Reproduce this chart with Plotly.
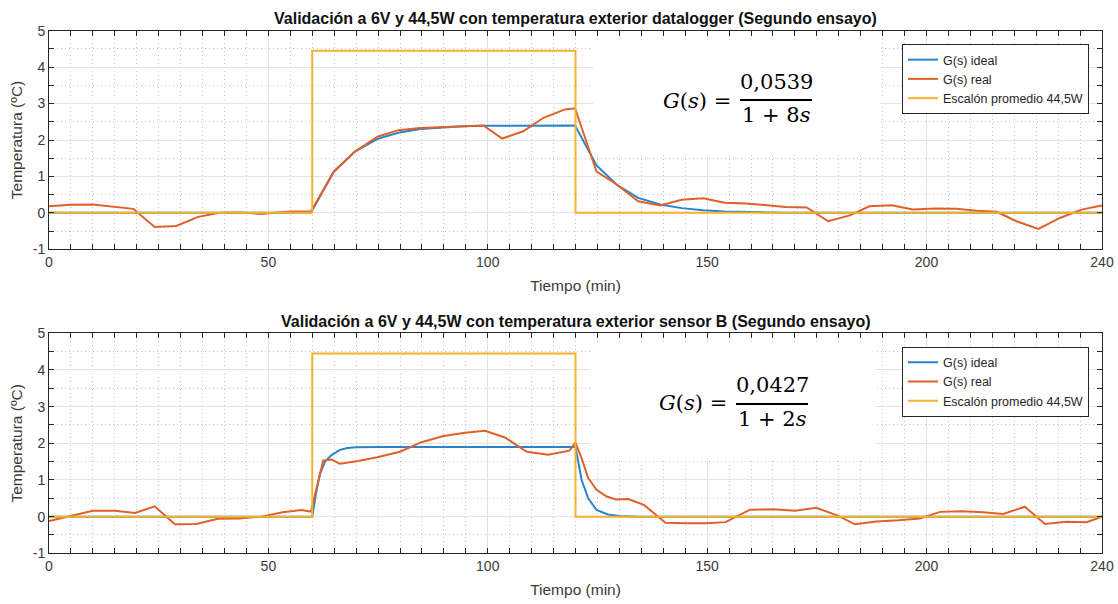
import plotly.graph_objects as go

W, H = 1118, 604

# ---------------- data: first test (datalogger) ----------------
t_real_1 = [0, 4.9, 10, 14.6, 19.2, 24.1, 29, 34, 38.9, 43.8, 48.3, 54.8, 59.7,
            64.9, 69.8, 74.9, 79.6, 84.6, 89.5, 94.3, 99, 103.3, 108.1, 112.7,
            117.6, 119.9, 124.8, 129.4, 134.3, 139.3, 144.2, 149.1, 154, 158.9,
            163.5, 167.8, 172.7, 177.6, 182.5, 187, 192, 196.9, 201.9, 206.8,
            211.4, 216, 220.5, 225.5, 230.4, 235.3, 240]
y_real_1 = [0.18, 0.22, 0.23, 0.17, 0.11, -0.39, -0.36, -0.11, 0.0, 0.01, -0.03,
            0.04, 0.04, 1.13, 1.69, 2.09, 2.27, 2.33, 2.35, 2.38, 2.40, 2.04,
            2.24, 2.61, 2.84, 2.87, 1.13, 0.78, 0.32, 0.20, 0.36, 0.40, 0.28,
            0.26, 0.21, 0.16, 0.15, -0.23, -0.07, 0.18, 0.21, 0.09, 0.12, 0.11,
            0.06, 0.03, -0.23, -0.44, -0.14, 0.09, 0.20]

t_ideal_1 = [0, 59.7, 64.9, 69.8, 74.9, 79.6, 84.6, 89.5, 94.3, 99, 119.9,
             124.8, 129.4, 134.3, 139.3, 144.2, 149.1, 154, 158.9, 163.5,
             167.8, 240]
y_ideal_1 = [0, 0, 1.13, 1.69, 2.03, 2.20, 2.30, 2.35, 2.38, 2.39, 2.40,
             1.30, 0.77, 0.41, 0.23, 0.13, 0.07, 0.04, 0.02, 0.01, 0.0, 0.0]

# ---------------- data: second test (sensor B) ----------------
t_real_2 = [0, 10, 15, 19.6, 24.1, 28.7, 33.6, 38.5, 43.4, 48.4, 53.3, 57.5,
            59.7, 62.5, 64.4, 66.3, 70.5, 74.8, 80, 84.9, 89.9, 94.8, 99.4,
            103.9, 108.9, 113.8, 118.6, 120, 121.4, 122.9, 124.8, 127.1, 129.2,
            132, 135.6, 140.5, 145, 149.8, 154.2, 159.8, 165.1, 170, 174.9,
            179.9, 183.7, 188.6, 193.6, 198.5, 203.1, 208, 212.9, 217.5, 222.4,
            227, 231.9, 236.5, 240]
y_real_2 = [-0.12, 0.16, 0.16, 0.10, 0.28, -0.21, -0.20, -0.06, -0.05, 0.0,
            0.12, 0.18, 0.14, 1.53, 1.56, 1.44, 1.52, 1.62, 1.77, 2.03, 2.20,
            2.29, 2.34, 2.16, 1.77, 1.69, 1.80, 2.02, 1.59, 1.05, 0.73, 0.55,
            0.47, 0.48, 0.32, -0.17, -0.18, -0.18, -0.15, 0.19, 0.20, 0.16,
            0.24, 0.02, -0.21, -0.13, -0.10, -0.05, 0.13, 0.15, 0.12, 0.07,
            0.27, -0.20, -0.14, -0.15, 0.0]

t_ideal_2 = [0, 60, 61, 61.8, 62.9, 64.4, 66.3, 68, 70, 75, 120, 121.4, 122.9,
             124.8, 127.4, 130, 135, 240]
y_ideal_2 = [0, 0, 0.73, 1.18, 1.50, 1.68, 1.82, 1.87, 1.89, 1.90, 1.90, 1.00,
             0.50, 0.18, 0.06, 0.02, 0.0, 0.0]

# average power step (44,5 W -> 4,45)
t_step = [0, 60, 60, 120, 120, 240]
y_step = [0, 0, 4.45, 4.45, 0, 0]

x_tickvals = [0, 50, 100, 150, 200, 240]
x_ticktext = ["0", "50", "100", "150", "200", "240"]
y_tickvals = [-1, 0, 1, 2, 3, 4, 5]
y_ticktext = ["-1", "0", "1", "2", "3", "4", "5"]

titles = [
    "Validación a 6V y 44,5W con temperatura exterior datalogger (Segundo ensayo)",
    "Validación a 6V y 44,5W con temperatura exterior sensor B (Segundo ensayo)",
]
names = ["G(s) ideal", "G(s) real", "Escalón promedio 44,5W"]
gains = ["0,0539", "0,0427"]
denoms = ["1 + 8<i>s</i>", "1 + 2<i>s</i>"]

# ---------------- styling ----------------
C_BLUE = "#2a84cc"
C_ORANGE = "#e0602a"
C_YELLOW = "#f2b22c"
AX = "#262626"
FONT = "Liberation Sans, Arial, sans-serif"
SERIF = "DejaVu Serif, serif"


def fx(px):
    return px / W


def fy(py):
    return 1 - py / H


PLOT_L, PLOT_R = 49, 1102
panels = [
    dict(top=30.7, bottom=249.3, title_y=18, legend_top=44,
         eq=dict(g=(697, 101), num=(776, 82), bar=(740, 812, 100), den=(776, 115)),
         box=(124.0, 189.4, 1.58, 4.75)),
    dict(top=333.3, bottom=553.3, title_y=321, legend_top=346.7,
         eq=dict(g=(693, 403), num=(772, 385), bar=(736, 808, 404), den=(772, 419)),
         box=(123.3, 188.3, 1.6, 4.75)),
]

series = [
    (t_ideal_1, y_ideal_1, t_real_1, y_real_1),
    (t_ideal_2, y_ideal_2, t_real_2, y_real_2),
]

fig = go.Figure()
annotations = []
shapes = []

for i, (p, (ti, yi, tr, yr)) in enumerate(zip(panels, series)):
    k = "" if i == 0 else str(i + 1)
    xa, ya = "x" + k, "y" + k
    leg = "legend" + k
    for name, xs, ys, col in [(names[0], ti, yi, C_BLUE),
                              (names[1], tr, yr, C_ORANGE),
                              (names[2], t_step, y_step, C_YELLOW)]:
        fig.add_trace(go.Scatter(x=xs, y=ys, mode="lines", name=name,
                                 line=dict(color=col, width=2),
                                 xaxis=xa, yaxis=ya, legend=leg,
                                 hoverinfo="skip"))

    minor_grid = dict(ticks="inside", ticklen=5, tickcolor=AX, showgrid=True,
                      gridcolor="#c8c8c8", griddash="1px,3px", gridwidth=1)
    common_x = dict(
        domain=[fx(PLOT_L), fx(PLOT_R)], range=[0, 240], automargin=False,
        tickmode="array", tickvals=x_tickvals, ticktext=x_ticktext,
        ticks="inside", ticklen=5, tickcolor=AX, tickwidth=1,
        showline=True, linecolor=AX, linewidth=1, mirror="allticks",
        showgrid=True, gridcolor="#e3e3e3", gridwidth=1, zeroline=False,
        minor=dict(tickmode="linear", tick0=0, dtick=5, **minor_grid),
        tickfont=dict(family=FONT, size=14, color="#3a3a3a"),
        title=dict(text="Tiempo (min)", font=dict(family=FONT, size=15.5, color="#3a3a3a"),
                   standoff=11),
        anchor=ya,
    )
    common_y = dict(
        domain=[fy(p["bottom"]), fy(p["top"])], range=[-1, 5], automargin=False,
        tickmode="array", tickvals=y_tickvals, ticktext=y_ticktext,
        ticks="inside", ticklen=5, tickcolor=AX, tickwidth=1,
        showline=True, linecolor=AX, linewidth=1, mirror="allticks",
        showgrid=True, gridcolor="#e3e3e3", gridwidth=1, zeroline=False,
        minor=dict(tickmode="linear", tick0=0, dtick=0.5, **minor_grid),
        tickfont=dict(family=FONT, size=14, color="#3a3a3a"),
        title=dict(text="Temperatura (ºC)", font=dict(family=FONT, size=15.5, color="#3a3a3a"),
                   standoff=6),
        anchor=xa,
    )
    fig.update_layout(**{"xaxis" + k: common_x, "yaxis" + k: common_y})

    # legend box in the upper-right corner
    fig.update_layout(**{leg: dict(
        x=fx(1089), xanchor="right", y=fy(p["legend_top"]), yanchor="top",
        bgcolor="white", bordercolor=AX, borderwidth=1,
        font=dict(family=FONT, size=12.5, color=AX),
        tracegroupgap=0, itemwidth=30,
    )})

    # panel title
    annotations.append(dict(
        text="<b>" + titles[i] + "</b>", x=fx((PLOT_L + PLOT_R) / 2),
        y=fy(p["title_y"]), xref="paper", yref="paper", showarrow=False,
        xanchor="center", yanchor="middle",
        font=dict(family=FONT, size=16, color="#111111")))

    # white panel behind the transfer function
    x0, x1, y0, y1 = p["box"]
    shapes.append(dict(type="rect", xref=xa, yref=ya, x0=x0, x1=x1, y0=y0, y1=y1,
                       fillcolor="white", line=dict(width=0), layer="between"))

    eq = p["eq"]
    annotations.append(dict(
        text="<i>G</i>(<i>s</i>) =", x=fx(eq["g"][0]), y=fy(eq["g"][1]),
        xref="paper", yref="paper", showarrow=False, xanchor="center",
        yanchor="middle", font=dict(family=SERIF, size=21, color="#000000")))
    annotations.append(dict(
        text=gains[i], x=fx(eq["num"][0]), y=fy(eq["num"][1]),
        xref="paper", yref="paper", showarrow=False, xanchor="center",
        yanchor="middle", font=dict(family=SERIF, size=21, color="#000000")))
    annotations.append(dict(
        text=denoms[i], x=fx(eq["den"][0]), y=fy(eq["den"][1]),
        xref="paper", yref="paper", showarrow=False, xanchor="center",
        yanchor="middle", font=dict(family=SERIF, size=21, color="#000000")))
    bx0, bx1, by = eq["bar"]
    shapes.append(dict(type="line", xref="paper", yref="paper",
                       x0=fx(bx0), x1=fx(bx1), y0=fy(by), y1=fy(by),
                       line=dict(color="#000000", width=2), layer="above"))

fig.update_layout(
    width=W, height=H, margin=dict(l=0, r=0, t=0, b=0),
    paper_bgcolor="white", plot_bgcolor="white",
    showlegend=True, annotations=annotations, shapes=shapes,
    font=dict(family=FONT, color=AX),
)

fig.write_html("out.html")
